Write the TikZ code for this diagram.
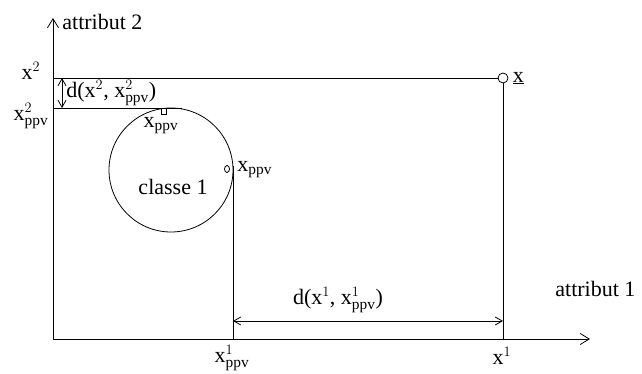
\documentclass[tikz,border=0pt]{standalone}
\usepackage{fontspec}
\setmainfont{Liberation Serif}
\usetikzlibrary{arrows.meta,positioning,shapes.geometric}

\begin{document}
\begin{tikzpicture}[x=1pt,y=-1pt,line width=0.8pt,
    axe/.style={-{Straight Barb[length=9pt,width=11pt]}},
    cote/.style={{Straight Barb[length=7pt,width=8pt]}-{Straight Barb[length=7pt,width=8pt]}},
    lbl/.style={inner sep=1pt,font=\fontsize{22}{25}\selectfont}]
  \useasboundingbox (0,0) rectangle (642,374);
  % axes
  \coordinate (O) at (53,339);
  \coordinate (Ytop) at (53,18);
  \coordinate (Xend) at (590,339);
  \draw[axe] (O) -- (Ytop);
  \draw[axe] (O) -- (Xend);
  \node[lbl,anchor=west] (att2) at (61,22) {attribut 2};
  \node[lbl,anchor=west] (att1) at (554,289) {attribut 1};
  % point x
  \node[draw,circle,minimum size=10pt,inner sep=0pt] (pt) at (503,78) {};
  \node[lbl,anchor=west] (ptlbl) at ([xshift=3pt]pt.east) {\underline{x}};
  \coordinate (y2) at (53,78);
  \coordinate (x1) at (503,339);
  \draw (y2) -- (pt.west);
  \draw (pt.south) -- (x1);
  % classe 1
  \node[draw,circle,minimum size=124pt,inner sep=0pt] (cl) at (171,170) {};
  \node[lbl] (cllbl) at (173,187) {classe 1};
  \node[draw,rectangle,minimum width=5pt,minimum height=6pt,inner sep=0pt] (ppvA) at (164,111) {};
  \node[lbl] (ppvAlbl) at (161,126) {x$_{\mathrm{ppv}}$};
  \node[draw,ellipse,minimum width=5pt,minimum height=7pt,inner sep=0pt] (ppvB) at (227,169) {};
  \node[lbl,anchor=west] (ppvBlbl) at (236,170) {x$_{\mathrm{ppv}}$};
  \coordinate (y2ppv) at (53,108);
  \coordinate (y2end) at (182,108);
  \coordinate (x1top) at (233,166);
  \coordinate (x1ppv) at (233,339);
  \draw (y2ppv) -- (y2end);
  \draw (x1top) -- (x1ppv);
  % distances
  \coordinate (dA) at (62,78);
  \coordinate (dB) at (62,108);
  \draw[cote] (dA) -- (dB);
  \node[lbl,anchor=west] (d2) at (65,93) {d(x$^{2}$, x$^{2}_{\mathrm{ppv}}$)};
  \coordinate (dC) at (233,321);
  \coordinate (dD) at (503,321);
  \draw[cote] (dC) -- (dD);
  \node[lbl] (d1) at (338,300) {d(x$^{1}$, x$^{1}_{\mathrm{ppv}}$)};
  % graduations
  \node[lbl] (lx2) at (31,71) {x$^{2}$};
  \node[lbl] (lx2ppv) at (31,116) {x$^{2}_{\mathrm{ppv}}$};
  \node[lbl] (lx1ppv) at (232,358) {x$^{1}_{\mathrm{ppv}}$};
  \node[lbl] (lx1) at (502,356) {x$^{1}$};
\end{tikzpicture}
\end{document}
